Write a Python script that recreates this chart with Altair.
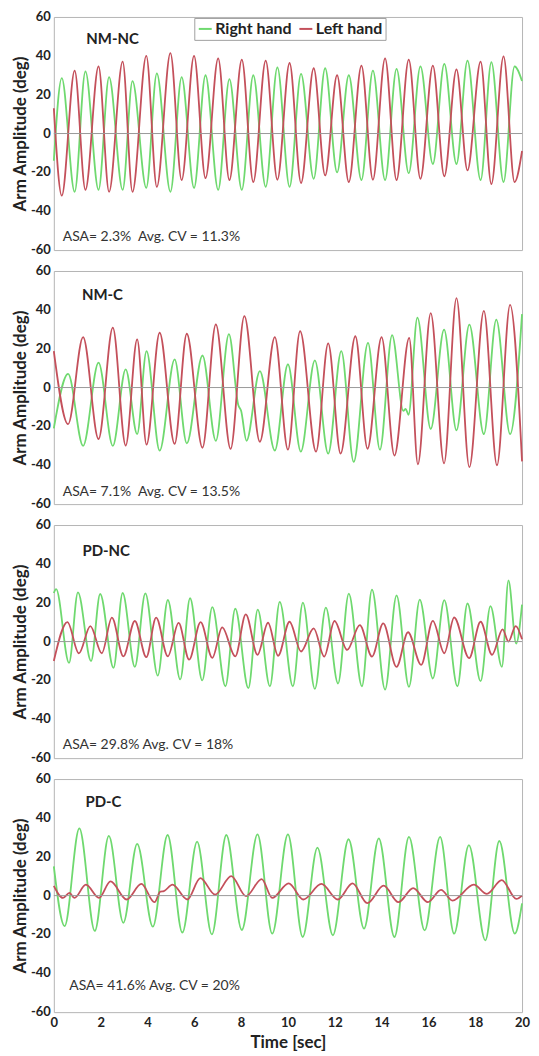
import altair as alt
import pandas as pd

# ---------------- data ----------------
panel_names = ["NM-NC", "NM-C", "PD-NC", "PD-C"]
asa_texts = [
    "ASA= 2.3%\u00a0 Avg. CV = 11.3%",
    "ASA= 7.1%\u00a0 Avg. CV = 13.5%",
    "ASA= 29.8% Avg. CV = 18%",
    "ASA= 41.6% Avg. CV = 20%",
]
hands = ["Right hand", "Left hand"]
x_ticks = [0, 2, 4, 6, 8, 10, 12, 14, 16, 18, 20]
y_ticks = [-60, -40, -20, 0, 20, 40, 60]
y_tick_labels = ["-60", "-40", "-20", "0", "20", "40", "60"]

# Panel 1: NM-NC (peaks / troughs, time in s, amplitude in deg)
nmnc_t = [0, 0.34, 0.89, 1.35, 1.91, 2.36, 2.94, 3.36, 3.95, 4.4, 4.98, 5.46, 5.99, 6.48,
          7.02, 7.5, 8.03, 8.52, 9.05, 9.55, 10.07, 10.56, 11.1, 11.59, 12.1, 12.6, 13.14,
          13.63, 14.15, 14.64, 15.16, 15.66, 16.19, 16.68, 17.2, 17.67, 18.23, 18.69, 19.21,
          19.68, 20]
nmnc_right = [-14, 28.5, -30, 32, -29, 29, -29, 27, -28, 31, -30, 29, -28, 30, -29, 28, -29,
              30, -27.5, 34, -27.5, 30.7, -23.3, 33.6, -20, 30, -24, 32.4, -24, 33.3, -20.4,
              34.6, -15.7, 35.8, -15.7, 37.5, -24, 36.7, -25, 34.6, 27]
nmnc_left = [13, -32, 32.4, -29, 34.6, -30, 37, -30, 40, -27.5, 41.4, -24, 40, -23, 38.7, -24,
             38, -25, 37.5, -23.8, 36.3, -25.5, 33.6, -21.6, 30, -25, 35, -23.8, 38.7, -24, 38,
             -23.3, 35, -22, 33, -19, 37, -26, 39.7, -25, -9]

# Panel 2: NM-C
nmc_right_t = [0, 0.61, 1.25, 1.91, 2.52, 3.07, 3.56, 3.96, 4.52, 5.16, 5.68, 6.35, 6.92, 7.48,
               7.88, 8.0, 8.23, 8.8, 9.44, 10.0, 10.55, 11.15, 11.72, 12.28, 12.81, 13.42,
               13.93, 14.45, 14.93, 15.03, 15.15, 15.53, 16.1, 16.67, 17.2, 17.75, 18.37, 18.9,
               19.49, 20]
nmc_right = [-21, 7, -30, 12.8, -30, 9.4, -24, 18.8, -32.5, 14.5, -28.7, 16.5, -27.4, 27.5, -9,
             -12, -27.4, 8.5, -32.4, 12, -33, 14, -34, 18.7, -38.3, 23, -32, 27, -12, -11, -14,
             36, -21.3, 29.8, -22, 32.4, -24, 35, -24, 37.8]
nmc_left_t = [0, 0.61, 1.25, 1.91, 2.52, 3.07, 3.56, 3.96, 4.52, 5.16, 5.68, 6.35, 6.92, 7.55,
              8.14, 8.8, 9.44, 10.0, 10.52, 11.2, 11.72, 12.25, 12.88, 13.4, 14.0, 14.55, 15.18,
              15.55, 16.1, 16.67, 17.2, 17.75, 18.37, 18.93, 19.49, 20]
nmc_left = [18.8, -18.8, 26, -26.5, 30.8, -29.9, 24.8, -29.4, 28.2, -29, 27.7, -31, 32.5, -31.6,
            36.8, -27.9, 26, -32, 29, -33, 22.7, -34, 26.4, -31.5, 26, -35, 25.6, -39.5, 38.3,
            -39, 46, -41, 39.5, -40, 42.6, -38]

# Panel 3: PD-NC
pdnc_right_t = [0, 0.1, 0.65, 1.03, 1.59, 1.98, 2.55, 2.94, 3.46, 3.91, 4.44, 4.87, 5.4, 5.82,
                6.34, 6.77, 7.33, 7.75, 8.31, 8.71, 9.23, 9.65, 10.21, 10.64, 11.15, 11.62,
                12.14, 12.6, 13.16, 13.59, 14.15, 14.64, 15.17, 15.63, 16.19, 16.68, 17.24,
                17.67, 18.23, 18.65, 19.14, 19.42, 19.75, 20]
pdnc_right = [25, 27, -11, 25.3, -10, 24.5, -13.5, 25, -13, 24.8, -17.5, 21.4, -19.5, 22.3, -20,
              17.7, -23, 16.9, -24, 16.4, -23, 20.4, -23, 20, -24.4, 17.5, -21.6, 24.7, -23,
              26.7, -24.7, 23.8, -23.3, 21.6, -19, 21.3, -23, 19.6, -20.4, 18.2, -13, 31.5, -1,
              19]
pdnc_left_t = [0, 0.58, 1.07, 1.56, 2.05, 2.48, 2.97, 3.46, 3.95, 4.37, 4.87, 5.33, 5.78, 6.27,
               6.77, 7.19, 7.75, 8.2, 8.7, 9.15, 9.58, 10.07, 10.56, 11.1, 11.55, 11.99, 12.53,
               13.07, 13.59, 14.07, 14.64, 15.13, 15.69, 16.19, 16.68, 17.1, 17.74, 18.23,
               18.72, 19.17, 19.42, 19.73, 20]
pdnc_left = [-10, 10, -6, 8, -6, 12.3, -7.6, 10.6, -8, 12.3, -7.6, 9.6, -9.3, 10, -8.4, 7.3,
             -7.6, 14, -6.8, 9.7, -7.3, 10.2, -5.1, 6.8, -7.7, 10.6, -4.3, 8.5, -7.7, 9.4, -13,
             4.8, -12, 10.7, -6, 12.4, -8.5, 10.2, -6.8, 6.3, 0, 8, 1.2]

# Panel 4: PD-C
pdc_right_t = [0, 0.46, 1.09, 1.75, 2.35, 2.97, 3.56, 4.23, 4.86, 5.49, 6.12, 6.75, 7.37, 8.03,
               8.7, 9.33, 10.0, 10.63, 11.26, 11.92, 12.59, 13.25, 13.88, 14.55, 15.17, 15.84,
               16.5, 17.1, 17.73, 18.43, 19.03, 19.69, 20]
pdc_right = [15, -15.7, 34.6, -18.2, 30.7, -14, 26.6, -16, 31.2, -19, 27.8, -20, 31.2, -17.7,
             31.5, -19.6, 31.5, -21.3, 24.7, -20.4, 29, -17, 29.5, -21.3, 30.2, -17.9, 30.2,
             -19.6, 26, -23, 28.1, -19.6, -4]
pdc_left_t = [0, 0.39, 0.67, 0.88, 1.37, 1.93, 2.42, 3.11, 3.74, 4.3, 4.55, 4.7, 5.07, 5.7,
              6.26, 6.89, 7.58, 8.21, 8.88, 9.33, 10.03, 10.66, 11.43, 12.13, 12.76, 13.39,
              14.09, 14.72, 15.35, 15.98, 16.54, 17.03, 17.94, 18.5, 19.13, 19.76, 20]
pdc_left = [5, -1.2, 1.4, -1.2, 5.6, -1.2, 7.3, -2, 6, -3.4, 2, 2.3, 5.6, -2, 9, 0.5, 10, -0.3,
            8.5, -1.2, 6.3, -2, 6, -2, 6.3, -3.9, 5.1, -3.4, 3.9, -3.4, 2.9, -2.6, 5.6, 0.9, 8,
            -1.7, 0]

right_series = [(nmnc_t, nmnc_right), (nmc_right_t, nmc_right),
                (pdnc_right_t, pdnc_right), (pdc_right_t, pdc_right)]
left_series = [(nmnc_t, nmnc_left), (nmc_left_t, nmc_left),
               (pdnc_left_t, pdnc_left), (pdc_left_t, pdc_left)]

# annotation anchors (data units)
name_anchor_t = [1.39, 1.2, 1.22, 1.35]
name_anchor_v = [48.5, 47.5, 46.5, 48]
asa_anchor_t = [0.38, 0.38, 0.38, 0.66]
asa_anchor_v = [-53.5, -54, -53, -46.5]

# ---------------- styling ----------------
GREEN = "#6fd96f"
RED = "#c4505b"
FONT = "Lato"
TXT = "#222222"
W, H = 470, 234

one_row = pd.DataFrame({"one": [0]})
ytick_df = pd.DataFrame({"tick": y_ticks, "label": y_tick_labels})


def make_panel(i):
    rows = []
    for hand, (ts, vs) in [("Right hand", right_series[i]), ("Left hand", left_series[i])]:
        for k, (t, v) in enumerate(zip(ts, vs)):
            rows.append({"t": t, "v": v, "hand": hand, "k": k})
    df = pd.DataFrame(rows)
    last = i == 3

    xkw = dict(values=x_ticks, ticks=False, domain=False, grid=False, labels=last,
               labelOverlap=False, labelFlush=False,
               labelFont=FONT, labelFontWeight="bold", labelFontSize=13, labelColor=TXT,
               labelPadding=4, titleFont=FONT, titleFontWeight="bold", titleFontSize=17,
               titleColor=TXT, titlePadding=5)
    xkw["title"] = "Time [sec]" if last else None
    xaxis = alt.Axis(**xkw)
    yaxis = alt.Axis(values=y_ticks, ticks=False, domain=False, grid=False, labels=False,
                     title="Arm Amplitude (deg)",
                     titleFont=FONT, titleFontWeight="bold", titleFontSize=17,
                     titleColor=TXT, titlePadding=24)

    if i == 0:
        legend = alt.Legend(orient="none", legendX=141, legendY=1, direction="horizontal",
                            title=None, symbolType="stroke", symbolSize=169,
                            symbolStrokeWidth=2, labelFont=FONT, labelFontWeight="bold",
                            labelFontSize=16, labelColor=TXT, labelOffset=2,
                            columnPadding=3, padding=3, strokeColor="#a0a0a0",
                            fillColor="white", cornerRadius=0)
    else:
        legend = None

    yscale = alt.Scale(domain=[-60, 60], nice=False)

    lines = alt.Chart(df).mark_line(interpolate="monotone", strokeWidth=1.8).encode(
        x=alt.X("t:Q", scale=alt.Scale(domain=[0, 20], nice=False, zero=False), axis=xaxis),
        y=alt.Y("v:Q", scale=yscale, axis=yaxis),
        color=alt.Color("hand:N", scale=alt.Scale(domain=hands, range=[GREEN, RED]),
                        legend=legend),
        order="k:Q",
    )

    zero = alt.Chart(one_row).mark_rule(color="#9a9a9a", strokeWidth=1).encode(
        y=alt.datum(0))

    ylabels = alt.Chart(ytick_df).mark_text(align="right", baseline="middle", dx=-3,
                                            font=FONT, fontWeight="bold", fontSize=13,
                                            color=TXT).encode(
        x=alt.value(0), y=alt.Y("tick:Q"), text="label:N")

    name = alt.Chart(one_row).mark_text(align="left", baseline="middle", font=FONT,
                                        fontWeight="bold", fontSize=15, color=TXT).encode(
        x=alt.datum(name_anchor_t[i]), y=alt.datum(name_anchor_v[i]),
        text=alt.value(panel_names[i]))

    asa = alt.Chart(one_row).mark_text(align="left", baseline="middle", font=FONT,
                                       fontSize=14, color="#333333").encode(
        x=alt.datum(asa_anchor_t[i]), y=alt.datum(asa_anchor_v[i]),
        text=alt.value(asa_texts[i]))

    return alt.layer(lines, zero, ylabels, name, asa).properties(width=W, height=H)


charts = [make_panel(i) for i in range(4)]

chart = alt.vconcat(*charts, spacing=21, bounds="flush").resolve_scale(
    color="independent"
).resolve_legend(color="independent").properties(
    padding={"left": 3, "right": 0, "top": 0, "bottom": 0},
    background="white",
).configure_view(stroke="#b5b5b5", strokeWidth=1)

chart.save("out.html", embed_options={"renderer": "svg", "actions": False})
